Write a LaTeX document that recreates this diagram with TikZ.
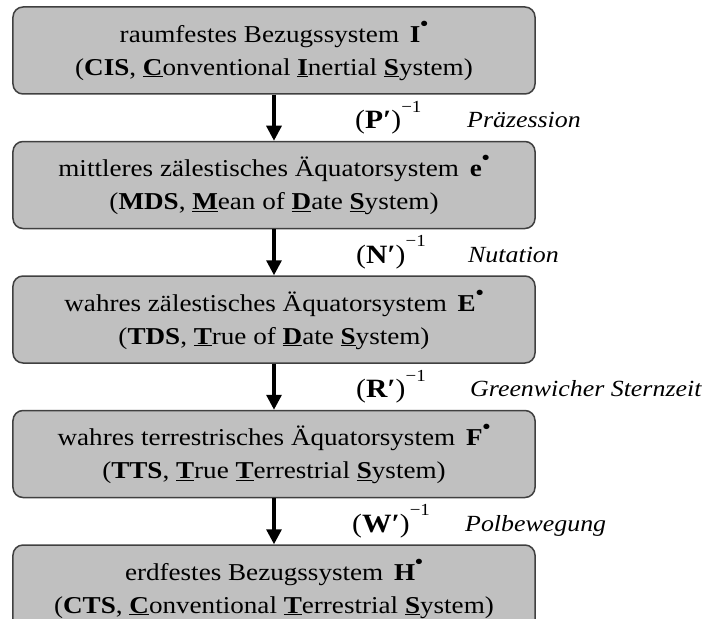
\documentclass[tikz,border=0pt]{standalone}
\usepackage{fontspec}
\setmainfont{Liberation Serif}[FakeStretch=1.12]
\usepackage{tikz}
\usetikzlibrary{arrows.meta, positioning, calc}
\definecolor{boxgray}{RGB}{192,192,192}
\definecolor{boxedge}{RGB}{64,64,64}
\newcommand{\boxfont}{\fontsize{24.3}{33}\selectfont}
\newcommand{\ubf}[1]{\underline{\textbf{#1}}}
\newcommand{\topdot}{\raisebox{.5em}{\fontsize{20}{20}\selectfont\textbf{•}}}
\newcommand{\invexp}{\raisebox{.62em}{\fontsize{17}{17}\selectfont −1}}
\tikzset{
  sysbox/.style={draw=boxedge, line width=1.5bp, fill=boxgray, rounded corners=10bp,
                 minimum width=522bp, minimum height=87bp, align=center, inner sep=0pt, font=\boxfont},
  flow/.style={-{Triangle[length=15bp,width=15bp]}, line width=3.2bp, draw=black},
  trafo/.style={font=\fontsize{26.5}{30}\selectfont, inner sep=0pt, anchor=base west},
  trafoname/.style={font=\fontsize{23.2}{30}\selectfont\itshape, inner sep=0pt, anchor=base west},
}
\begin{document}
\begin{tikzpicture}[x=1bp, y=-1bp, node distance=46bp]
\useasboundingbox (0,0) rectangle (707,619);
% Bezugssysteme
\node[sysbox] (cis) at (274,50.5) {raumfestes Bezugssystem \,\textbf{I}\topdot\\
  (\textbf{CIS}, \ubf{C}onventional \ubf{I}nertial \ubf{S}ystem)};
\node[sysbox, below=of cis] (mds) {mittleres zälestisches Äquatorsystem \,\textbf{e}\topdot\\
  (\textbf{MDS}, \ubf{M}ean of \ubf{D}ate \ubf{S}ystem)};
\node[sysbox, below=of mds] (tds) {wahres zälestisches Äquatorsystem \,\textbf{E}\topdot\\
  (\textbf{TDS}, \ubf{T}rue of \ubf{D}ate \ubf{S}ystem)};
\node[sysbox, below=of tds] (tts) {wahres terrestrisches Äquatorsystem \,\textbf{F}\topdot\\
  (\textbf{TTS}, \ubf{T}rue \ubf{T}errestrial \ubf{S}ystem)};
\node[sysbox, below=of tts] (cts) {erdfestes Bezugssystem \,\textbf{H}\topdot\\
  (\textbf{CTS}, \ubf{C}onventional \ubf{T}errestrial \ubf{S}ystem)};
% Transformationen
\draw[flow] (cis) -- (mds) coordinate[midway] (m1);
\draw[flow] (mds) -- (tds) coordinate[midway] (m2);
\draw[flow] (tds) -- (tts) coordinate[midway] (m3);
\draw[flow] (tts) -- (cts) coordinate[midway] (m4);
\node[trafo] (p) at ([xshift=81bp, yshift=-11bp]m1) {(\textbf{P′})\invexp};
\node[trafo] (n) at ([xshift=82bp, yshift=-11bp]m2) {(\textbf{N′})\invexp};
\node[trafo] (r) at ([xshift=82bp, yshift=-11bp]m3) {(\textbf{R′})\invexp};
\node[trafo] (w) at ([xshift=78bp, yshift=-11bp]m4) {(\textbf{W′})\invexp};
\node[trafoname] (pn) at ([xshift=193bp, yshift=-10bp]m1) {Präzession};
\node[trafoname] (nn) at ([xshift=194bp, yshift=-10bp]m2) {Nutation};
\node[trafoname] (rn) at ([xshift=196bp, yshift=-10bp]m3) {Greenwicher Sternzeit};
\node[trafoname] (wn) at ([xshift=191bp, yshift=-10bp]m4) {Polbewegung};
\end{tikzpicture}
\end{document}
